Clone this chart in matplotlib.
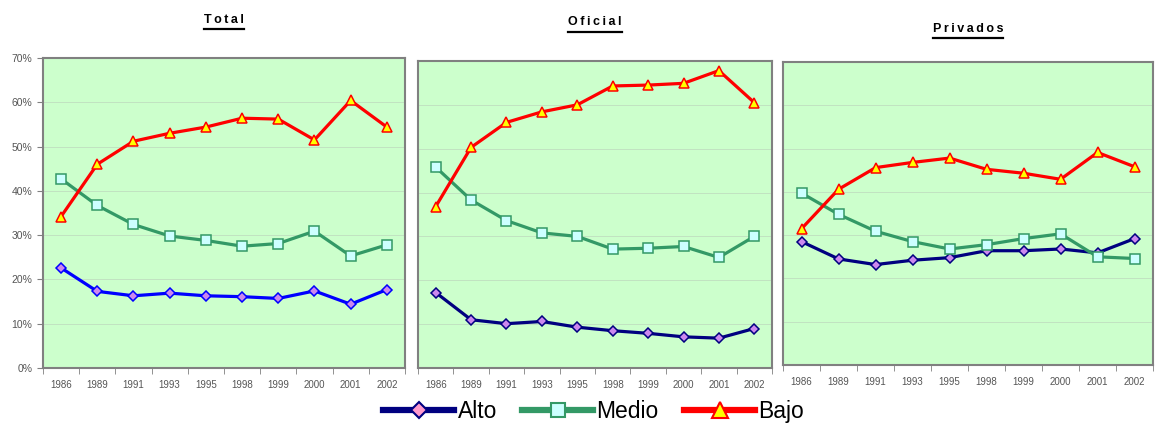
import matplotlib
matplotlib.use("Agg")
import matplotlib.pyplot as plt
from matplotlib.lines import Line2D

plt.rcParams['font.family'] = ['Liberation Sans', 'DejaVu Sans']

anios = ["1986", "1989", "1991", "1993", "1995", "1998", "1999", "2000", "2001", "2002"]

# Total
total_alto = [22.6, 17.3, 16.3, 16.9, 16.3, 16.1, 15.7, 17.4, 14.4, 17.7]
total_medio = [42.7, 36.7, 32.4, 29.8, 28.8, 27.5, 28.1, 30.9, 25.3, 27.8]
total_bajo = [34.2, 46.0, 51.2, 53.0, 54.4, 56.4, 56.2, 51.5, 60.4, 54.4]

# Oficial
oficial_alto = [17.2, 11.0, 10.1, 10.6, 9.3, 8.5, 7.9, 7.1, 6.8, 9.0]
oficial_medio = [45.8, 38.3, 33.6, 30.8, 30.0, 27.1, 27.3, 27.7, 25.2, 30.0]
oficial_bajo = [36.8, 50.3, 56.0, 58.4, 60.0, 64.3, 64.5, 64.9, 67.8, 60.5]

# Privados
privados_alto = [28.5, 24.5, 23.2, 24.2, 24.8, 26.4, 26.4, 26.8, 25.9, 29.2]
privados_medio = [39.7, 34.8, 30.9, 28.5, 26.8, 27.8, 29.2, 30.3, 25.0, 24.6]
privados_bajo = [31.5, 40.6, 45.6, 46.8, 47.8, 45.2, 44.3, 42.9, 49.1, 45.8]

paneles = [
    ("Total", total_alto, total_medio, total_bajo, [0.0372, 0.1362, 0.3134, 0.7277], "#0000FF", 0.953),
    ("Oficial", oficial_alto, oficial_medio, oficial_bajo, [0.3619, 0.1362, 0.3065, 0.7207], "#000080", 0.948),
    ("Privados", privados_alto, privados_medio, privados_bajo, [0.6780, 0.1432, 0.3203, 0.7113], "#000080", 0.932),
]

fig = plt.figure(figsize=(11.55, 4.26), dpi=100)
x = list(range(len(anios)))

for i, (titulo, alto, medio, bajo, pos, color_alto, ytit) in enumerate(paneles):
    ax = fig.add_axes(pos)
    ax.set_facecolor("#CCFFCC")
    ax.set_xlim(-0.5, len(anios) - 0.5)
    ax.set_ylim(0, 70)
    ax.set_yticks(range(0, 71, 10))
    ax.yaxis.grid(True, color="#C0DEC0", linewidth=0.6)
    ax.set_axisbelow(True)

    ax.plot(x, alto, color=color_alto, lw=2.3, marker="D", ms=5,
            mfc="#CC88EE", mec=color_alto, mew=1.1, zorder=3)
    ax.plot(x, medio, color="#339966", lw=2.3, marker="s", ms=6.5,
            mfc="#CCFFFF", mec="#339966", mew=1.1, zorder=3)
    ax.plot(x, bajo, color="#FF0000", lw=2.3, marker="^", ms=7.5,
            mfc="#FFFF00", mec="#FF0000", mew=1.1, zorder=4)

    ax.set_xticks(x)
    ax.set_xticklabels(anios, fontsize=7, color="#555555")
    ax.set_xticks([v - 0.5 for v in range(len(anios) + 1)], minor=True)
    ax.tick_params(axis="x", which="major", length=0, pad=9)
    ax.tick_params(axis="x", which="minor", length=4, color="#808080", direction="out")

    if i == 0:
        ax.set_yticklabels([f"{v}%" for v in range(0, 71, 10)], fontsize=7.5, color="#555555")
        ax.tick_params(axis="y", length=4, color="#808080", direction="out")
    else:
        ax.tick_params(axis="y", left=False, labelleft=False)

    for s in ax.spines.values():
        s.set_color("#808080")
        s.set_linewidth(1.5)

    # titulo subrayado
    xc = pos[0] + pos[2] / 2
    t = fig.text(xc, ytit, "\u2009".join(titulo), ha="center", va="center",
                 fontsize=9, fontweight="bold", color="#000000")
    fig.canvas.draw()
    bb = t.get_window_extent().transformed(fig.transFigure.inverted())
    fig.add_artist(Line2D([bb.x0, bb.x1], [bb.y0 - 0.008, bb.y0 - 0.008],
                          color="#000000", lw=1.6))

handles = [
    Line2D([], [], color="#000080", lw=4.5, marker="D", ms=8, mfc="#FF99CC", mec="#000080", mew=1.5),
    Line2D([], [], color="#339966", lw=4.5, marker="s", ms=10, mfc="#CCFFFF", mec="#339966", mew=1.5),
    Line2D([], [], color="#FF0000", lw=4.5, marker="^", ms=11, mfc="#FFFF00", mec="#FF0000", mew=1.5),
]
fig.legend(handles, ["Alto", "Medio", "Bajo"], loc="center", bbox_to_anchor=(0.514, 0.035),
           ncol=3, frameon=False, fontsize=16.5, handlelength=3.1, handletextpad=0.15,
           columnspacing=1.1)

fig.savefig("out.png", dpi=100)
